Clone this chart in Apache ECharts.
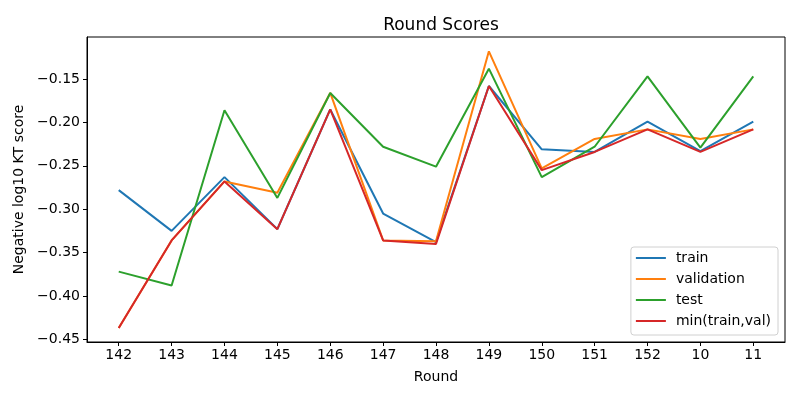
<!DOCTYPE html>
<html>
<head>
<meta charset="utf-8">
<script src="https://cdn.jsdelivr.net/npm/echarts@6/dist/echarts.min.js"></script>
<style>
  html, body { margin: 0; padding: 0; background: #fff; }
  #chart { width: 800px; height: 400px; }
</style>
</head>
<body>
<div id="chart"></div>
<script>
// rounds, in plot order
var rounds = ['142', '143', '144', '145', '146', '147', '148', '149', '150', '151', '152', '10', '11'];

var train      = [-0.278, -0.325, -0.263, -0.323, -0.185, -0.305, -0.338, -0.158, -0.231, -0.234, -0.199, -0.233, -0.199];
var validation = [-0.437, -0.336, -0.268, -0.281, -0.166, -0.336, -0.337, -0.118, -0.253, -0.219, -0.208, -0.219, -0.208];
var test       = [-0.372, -0.388, -0.186, -0.287, -0.166, -0.228, -0.251, -0.138, -0.263, -0.228, -0.147, -0.229, -0.147];
var minTrainVal = [-0.437, -0.336, -0.268, -0.323, -0.185, -0.336, -0.340, -0.158, -0.255, -0.234, -0.208, -0.234, -0.208];

var yTicks = [-0.45, -0.40, -0.35, -0.30, -0.25, -0.20, -0.15];

var FONT = 'DejaVu Sans';

function pairs(vals) {
  return vals.map(function(v, i) { return [i, v]; });
}

function line(name, vals, color) {
  return {
    name: name,
    type: 'line',
    data: pairs(vals),
    symbol: 'none',
    color: color,
    lineStyle: { width: 2, color: color },
    animation: false
  };
}

var xIdx = rounds.map(function(r, i) { return i; });

var chart = echarts.init(document.getElementById('chart'));
chart.setOption({
  backgroundColor: '#fff',
  animation: false,
  title: {
    text: 'Round Scores',
    left: 436, top: 12, textAlign: 'center',
    textStyle: { fontFamily: FONT, fontSize: 17, fontWeight: 'normal', color: '#000' }
  },
  grid: {
    left: 87, right: 15, top: 37, bottom: 58,
    show: true, borderColor: '#000', borderWidth: 1
  },
  legend: {
    orient: 'vertical',
    right: 22, bottom: 65,
    icon: 'rect',
    itemWidth: 30, itemHeight: 2,
    itemGap: 5,
    padding: [3, 7, 6, 5],
    borderColor: '#d0d0d0', borderWidth: 1, borderRadius: 3,
    backgroundColor: 'rgba(255,255,255,0.8)',
    textStyle: { fontFamily: FONT, fontSize: 14, color: '#000', lineHeight: 16, padding: [0, 0, 0, 5] },
    data: ['train', 'validation', 'test', 'min(train,val)']
  },
  xAxis: {
    type: 'value',
    min: -0.6, max: 12.6,
    name: 'Round', nameLocation: 'middle', nameGap: 28,
    nameTextStyle: { fontFamily: FONT, fontSize: 14, color: '#000' },
    axisLine: { show: true, onZero: false, lineStyle: { color: '#000', width: 1 } },
    axisTick: { show: true, length: 4, lineStyle: { color: '#000', width: 1 }, customValues: xIdx },
    axisLabel: {
      customValues: xIdx, margin: 6,
      fontFamily: FONT, fontSize: 14, color: '#000',
      formatter: function(v) { return rounds[Math.round(v)]; }
    },
    splitLine: { show: false }
  },
  yAxis: {
    type: 'value',
    min: -0.4531, max: -0.1015,
    name: 'Negative log10 KT score', nameLocation: 'middle', nameGap: 55,
    nameTextStyle: { fontFamily: FONT, fontSize: 14, color: '#000' },
    axisLine: { show: true, onZero: false, lineStyle: { color: '#000', width: 1 } },
    axisTick: { show: true, length: 4, lineStyle: { color: '#000', width: 1 }, customValues: yTicks },
    axisLabel: {
      customValues: yTicks, margin: 7,
      fontFamily: FONT, fontSize: 14, color: '#000',
      formatter: function(v) { return '\u2212' + Math.abs(v).toFixed(2); }
    },
    splitLine: { show: false }
  },
  series: [
    line('train', train, '#1f77b4'),
    line('validation', validation, '#ff7f0e'),
    line('test', test, '#2ca02c'),
    line('min(train,val)', minTrainVal, '#d62728')
  ]
});
</script>
</body>
</html>
